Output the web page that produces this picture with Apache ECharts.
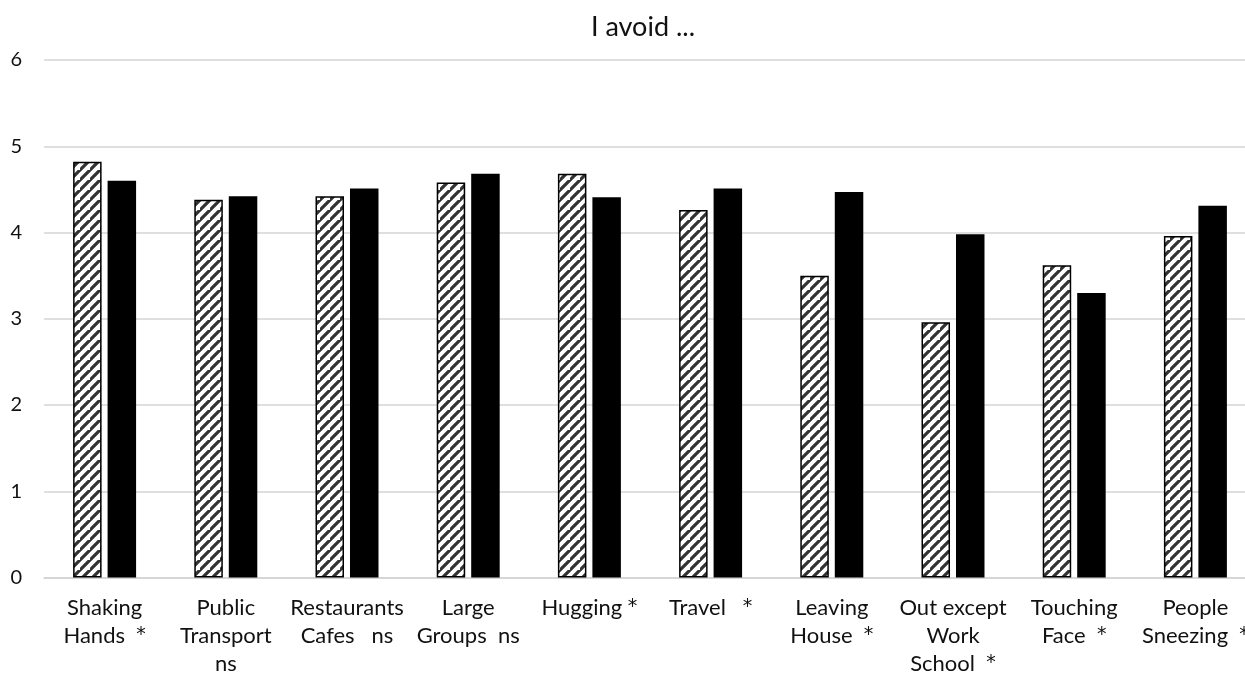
<!DOCTYPE html>
<html>
<head>
<meta charset="utf-8">
<script src="https://cdn.jsdelivr.net/npm/echarts@6/dist/echarts.min.js"></script>
<style>
html,body{margin:0;padding:0;background:#fff;}
#c{width:1245px;height:676px;}
</style>
</head>
<body>
<div id="c"></div>
<script>
const categories = ["Shaking\nHands  *", "Public\nTransport\nns", "Restaurants\nCafes   ns", "Large\nGroups  ns", "Hugging *", "Travel   *", "Leaving\nHouse  *", "Out except\nWork\nSchool  *", "Touching\nFace  *", "People\nSneezing  *"];
const hatchedValues = [4.82, 4.38, 4.42, 4.58, 4.68, 4.26, 3.50, 2.96, 3.62, 3.96];
const solidValues = [4.60, 4.42, 4.51, 4.68, 4.41, 4.51, 4.47, 3.98, 3.30, 4.31];
const yTicks = [0, 1, 2, 3, 4, 5, 6];

function makeHatch() {
  const s = 10;
  const cv = document.createElement('canvas');
  cv.width = s; cv.height = s;
  const ctx = cv.getContext('2d');
  ctx.fillStyle = '#ffffff';
  ctx.fillRect(0, 0, s, s);
  ctx.strokeStyle = '#333333';
  ctx.lineWidth = 3.2;
  ctx.beginPath();
  ctx.moveTo(-2, s + 2); ctx.lineTo(s + 2, -2);
  ctx.moveTo(-2 - s, s + 2); ctx.lineTo(2, -2);
  ctx.moveTo(s - 2, 2 * s + 2); ctx.lineTo(2 * s + 2, s - 2);
  ctx.stroke();
  return cv;
}

const font = 'Lato';
function fmtLabel(v) {
  return v.split('\n').map(line => line.replace(/\*/g, '{a|*}')).join('\n');
}

const chart = echarts.init(document.getElementById('c'), null, {renderer: 'canvas'});
chart.setOption({
  animation: false,
  backgroundColor: '#fff',
  title: {
    text: 'I avoid ...',
    left: 638, top: 9, textAlign: 'center',
    textStyle: {fontFamily: font, fontSize: 27, fontWeight: 'normal', color: '#111'}
  },
  grid: {left: 44, top: 60, width: 1212, height: 517.5, containLabel: false, outerBoundsMode: 'none'},
  xAxis: {
    type: 'category',
    data: categories,
    axisLine: {show: true, lineStyle: {color: '#d4d4d4', width: 1.5}},
    axisTick: {show: false},
    axisLabel: {
      interval: 0, margin: 16, fontFamily: font, fontSize: 22, lineHeight: 28, color: '#111', verticalAlign: 'top',
      formatter: fmtLabel,
      rich: {a: {fontFamily: 'DejaVu Sans', fontSize: 19, lineHeight: 28, color: '#111'}}
    }
  },
  yAxis: {
    type: 'value', min: yTicks[0], max: yTicks[yTicks.length - 1], interval: 1,
    axisLine: {show: false}, axisTick: {show: false},
    axisLabel: {margin: 22, fontFamily: font, fontSize: 20, color: '#111'},
    splitLine: {lineStyle: {color: '#d4d4d4', width: 1.5}}
  },
  series: [
    {
      type: 'bar', data: hatchedValues, barWidth: 28.5, barGap: '21%',
      itemStyle: {color: {image: makeHatch(), repeat: 'repeat'}, borderColor: '#000', borderWidth: 1.5}
    },
    {
      type: 'bar', data: solidValues, barWidth: 28.5,
      itemStyle: {color: '#000'}
    }
  ]
});
</script>
</body>
</html>
